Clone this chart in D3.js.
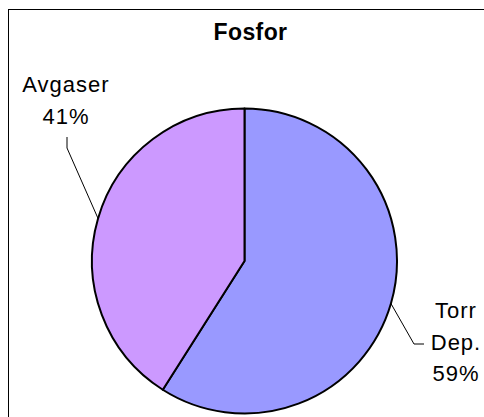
<!DOCTYPE html>
<html>
<head>
<meta charset="utf-8">
<script src="https://cdn.jsdelivr.net/npm/d3@7"></script>
<style>
  body { margin: 0; background: #fff; }
  text { font-family: "Liberation Sans", Arial, sans-serif; fill: #000; }
</style>
</head>
<body>
<div id="chart"></div>
<script>
// Fosfor pie chart
var categories = ["Torr Dep.", "Avgaser"];
var values = [59, 41];
var labelLines = [["Torr", "Dep.", "59%"], ["Avgaser", "41%"]];
var colors = ["#9999FF", "#CC99FF"];

var width = 484;
var height = 417;
var cx = 244.5;
var cy = 261;
var radius = 152.5;

var svg = d3.select("#chart")
    .append("svg")
    .attr("width", width)
    .attr("height", height);

// frame (only top and left visible in the window)
svg.append("rect")
    .attr("x", 8.5)
    .attr("y", 9.5)
    .attr("width", width + 20)
    .attr("height", height + 20)
    .attr("fill", "#fff")
    .attr("stroke", "#000")
    .attr("stroke-width", 1);

svg.append("text")
    .attr("x", 250.5)
    .attr("y", 40)
    .attr("text-anchor", "middle")
    .style("font-weight", "bold")
    .style("font-size", "23px")
    .style("letter-spacing", "0.4px")
    .text("Fosfor");

var pie = d3.pie().sort(null).value(function(d) { return d; });
var arcs = pie(values);

var arc = d3.arc().innerRadius(0).outerRadius(radius);
var edge = d3.arc().innerRadius(radius).outerRadius(radius);

var g = svg.append("g").attr("transform", "translate(" + cx + "," + cy + ")");

g.selectAll("path")
    .data(arcs)
    .enter()
    .append("path")
    .attr("d", arc)
    .attr("fill", function(d, i) { return colors[i]; })
    .attr("stroke", "#000")
    .attr("stroke-width", 2)
    .attr("stroke-linejoin", "round");

// label positions (absolute) and leader elbows
var labelPos = [
    { x: 456, y: 318, elbow: [[414, 344], [424, 344]] },
    { x: 66, y: 92, elbow: [[67, 148], [67, 137]] }
];
var lineGap = 31.5;

arcs.forEach(function(d, i) {
    var p = labelPos[i];
    var c = edge.centroid(d);
    var pts = [[c[0] + cx, c[1] + cy]].concat(p.elbow);
    svg.append("path")
        .attr("d", d3.line()(pts))
        .attr("fill", "none")
        .attr("stroke", "#000")
        .attr("stroke-width", 1);

    var t = svg.append("text")
        .attr("text-anchor", "middle")
        .style("font-size", "22px")
        .style("letter-spacing", "1px");
    labelLines[i].forEach(function(s, j) {
        t.append("tspan")
            .attr("x", p.x)
            .attr("y", p.y + j * lineGap)
            .text(s);
    });
});
</script>
</body>
</html>
